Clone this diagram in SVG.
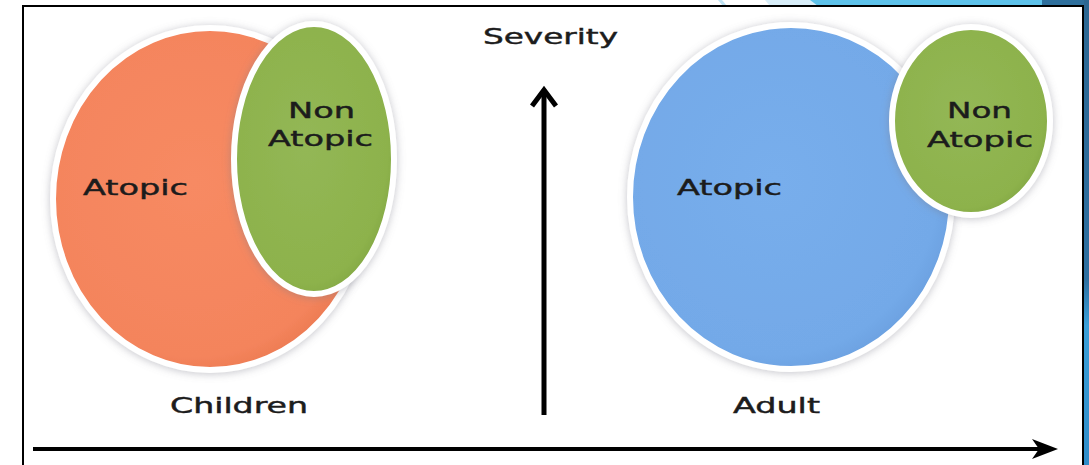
<svg xmlns="http://www.w3.org/2000/svg" width="1089" height="465" viewBox="0 0 1089 465">
<style>
.lbl{font-family:"DejaVu Sans","Liberation Sans",sans-serif;font-size:22px;fill:#1c1c1c;stroke:#1c1c1c;stroke-width:0.45}
.ring{stroke:#ffffff;stroke-width:6}
.axis{stroke:#000;fill:none}
</style>
<defs>
<filter id="sh" x="-20%" y="-20%" width="140%" height="140%">
<feDropShadow dx="0" dy="1" stdDeviation="4" flood-color="#7a7a8a" flood-opacity="0.45"/>
</filter>
<radialGradient id="gOr" cx="45%" cy="45%" r="60%">
<stop offset="0" stop-color="#f78a63"/><stop offset="0.85" stop-color="#f4845c"/><stop offset="1" stop-color="#e9774f"/>
</radialGradient>
<radialGradient id="gBl" cx="45%" cy="45%" r="60%">
<stop offset="0" stop-color="#78aeec"/><stop offset="0.85" stop-color="#73a9e8"/><stop offset="1" stop-color="#689ddd"/>
</radialGradient>
<radialGradient id="gGr" cx="45%" cy="45%" r="60%">
<stop offset="0" stop-color="#93b755"/><stop offset="0.85" stop-color="#8db24c"/><stop offset="1" stop-color="#80a540"/>
</radialGradient>
<linearGradient id="gSide" x1="0" y1="0" x2="0" y2="1">
<stop offset="0" stop-color="#2c6792"/><stop offset="0.6" stop-color="#2d6fa0"/><stop offset="0.7" stop-color="#3a9fd8"/><stop offset="1" stop-color="#2f8cc8"/>
</linearGradient>
</defs>

<g id="background">
<rect x="0" y="0" width="1089" height="465" fill="#ffffff"/>
<polygon points="718,0 722,0 727,6 723,6" fill="#bfe3f4"/>
<polygon points="765,0 812,0 820,6 770,6" fill="#d8eef9"/>
<polygon points="810,0 1042,0 1042,6 818,6" fill="#5ec2ea"/>
<polygon points="1042,0 1089,0 1089,6 1042,6" fill="#2e6f9c"/>
<rect x="1084" y="0" width="5" height="465" fill="url(#gSide)"/>
<rect x="23" y="6" width="1060" height="470" fill="#ffffff" stroke="#000" stroke-width="2"/>
</g>

<g id="children-atopic">
<ellipse cx="210" cy="199" rx="157" ry="171" fill="url(#gOr)" class="ring" filter="url(#sh)"/>
<text class="lbl" x="83" y="195" textLength="105" lengthAdjust="spacingAndGlyphs">Atopic</text>
</g>
<g id="children-nonatopic">
<ellipse cx="314" cy="159" rx="80" ry="135" fill="url(#gGr)" class="ring" filter="url(#sh)"/>
<text class="lbl" x="288" y="118" textLength="67" lengthAdjust="spacingAndGlyphs">Non</text>
<text class="lbl" x="268" y="146" textLength="105" lengthAdjust="spacingAndGlyphs">Atopic</text>
</g>
<g id="label-children">
<text class="lbl" x="170" y="413" textLength="138" lengthAdjust="spacingAndGlyphs">Children</text>
</g>

<g id="adult-atopic">
<ellipse cx="791" cy="197" rx="161" ry="172" fill="url(#gBl)" class="ring" filter="url(#sh)"/>
<text class="lbl" x="677" y="195" textLength="105" lengthAdjust="spacingAndGlyphs">Atopic</text>
</g>
<g id="adult-nonatopic">
<ellipse cx="971" cy="121" rx="79" ry="94" fill="url(#gGr)" class="ring" filter="url(#sh)"/>
<text class="lbl" x="947" y="118" textLength="65" lengthAdjust="spacingAndGlyphs">Non</text>
<text class="lbl" x="927" y="147" textLength="106" lengthAdjust="spacingAndGlyphs">Atopic</text>
</g>
<g id="label-adult">
<text class="lbl" x="733" y="413" textLength="87" lengthAdjust="spacingAndGlyphs">Adult</text>
</g>

<g id="label-severity">
<text class="lbl" x="483" y="44" font-size="21" textLength="135" lengthAdjust="spacingAndGlyphs">Severity</text>
</g>

<g id="connectors">
<line class="axis" x1="544" y1="415" x2="544" y2="92" stroke-width="5"/>
<path class="axis" d="M532,106 L544,90 L556,106" stroke-width="5"/>
<line class="axis" x1="33" y1="449" x2="1040" y2="449" stroke-width="4"/>
<path d="M1032,439 L1058,449 L1032,459 L1039,449 Z" fill="#000"/>
</g>
</svg>
